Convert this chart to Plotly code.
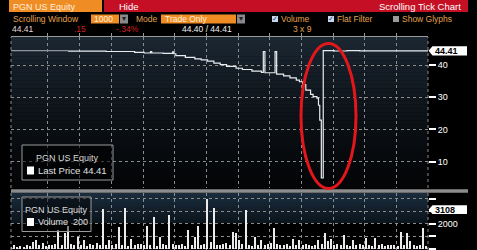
import plotly.graph_objects as go

W, H = 477, 250
def X(px): return px / W
def Y(py): return 1 - py / H

# ---------------- data ----------------
ticker = "PGN US Equity"
last_price = 44.41
last_volume = 200
max_volume_label = 3108
price_ticks = [10, 20, 30, 40]
volume_ticks = [0, 1000, 2000, 3000, 4000]
volume_ticktext = ["0", "", "2000", "", ""]

# previous (grey) segment
prev_idx = [0, 18]
prev_price = [44.44, 44.44]

# trade-sequence index and price (step line)
price_idx = [18, 30, 39, 42, 44, 44.4, 48, 51, 51.4, 52, 55, 58, 60, 62, 64, 66, 68,
             71, 73, 76, 79, 79.6, 80.1, 83.3, 83.8, 86, 88, 90, 91, 92, 93, 94.5,
             95.3, 96.5, 97.0, 97.4, 97.9, 98.5, 102, 106, 110, 116, 118, 131.6]
price_val = [44.30, 44.20, 43.95, 43.73, 44.13, 43.73, 43.60, 44.10, 43.50, 42.90,
             42.40, 41.90, 41.60, 41.20, 40.60, 40.10, 39.60, 39.00, 38.60, 38.10,
             37.70, 44.15, 37.60, 44.15, 37.20, 36.60, 36.00, 35.30, 34.80, 33.90,
             32.20, 30.90, 30.20, 29.70, 27.50, 22.90, 4.90, 44.44, 44.35, 44.45,
             44.40, 44.38, 44.42, 44.41]

volume = [150, 300, 120, 200, 150, 250, 180, 500, 680, 300,
          450, 200, 300, 250, 350, 1480, 300, 1240, 1800, 400,
          250, 940, 300, 700, 200, 350, 300, 450, 250, 3200,
          300, 700, 250, 400, 1740, 300, 3240, 200, 760, 300,
          400, 350, 250, 1800, 300, 2540, 200, 940, 400, 300,
          2650, 350, 250, 300, 400, 200, 1480, 300, 940, 1770,
          250, 350, 3960, 500, 3240, 300, 250, 350, 450, 300,
          1330, 1260, 700, 400, 3108, 300, 200, 940, 250, 700,
          300, 400, 420, 1650, 400, 250, 300, 400, 200, 760,
          300, 700, 250, 350, 300, 200, 300, 700, 400, 1250,
          600, 760, 300, 400, 250, 1050, 300, 200, 720, 300,
          400, 250, 880, 300, 200, 880, 250, 350, 200, 300,
          250, 300, 200, 1340, 300, 1240, 600, 250, 200, 300,
          1640, 200]
volume_idx = list(range(len(volume)))

# ---------------- figure ----------------
fig = go.Figure()
fig.add_trace(go.Scatter(x=prev_idx, y=prev_price, mode="lines", line=dict(color="#8e959b", width=1.2, shape="hv"),
                         xaxis="x", yaxis="y", showlegend=False))
fig.add_trace(go.Scatter(x=price_idx, y=price_val, mode="lines", line=dict(color="#e8ecef", width=1.2, shape="hv"),
                         xaxis="x", yaxis="y", showlegend=False))
fig.add_trace(go.Bar(x=volume_idx, y=volume, width=0.36, marker=dict(color="#ececec", line=dict(width=0)),
                     xaxis="x2", yaxis="y2", showlegend=False))

shapes = []
annots = []

# gradient backgrounds
def lerp(a, b, t): return tuple(int(a[i] + (b[i] - a[i]) * t) for i in range(3))
top_c, mid_c, bot_c = (27, 39, 50), (10, 14, 18), (4, 5, 7)
y0, y1 = 37, 188
n = 38
for k in range(n):
    ya = y0 + (y1 - y0) * k / n
    yb = y0 + (y1 - y0) * (k + 1) / n
    t = k / (n - 1)
    c = lerp(top_c, mid_c, t / 0.65) if t < 0.65 else lerp(mid_c, bot_c, (t - 0.65) / 0.35)
    shapes.append(dict(type="rect", xref="paper", yref="paper", x0=X(11), x1=X(428), y0=Y(yb), y1=Y(ya) + 0.001,
                       fillcolor="rgb(%d,%d,%d)" % c, line=dict(width=0), layer="below"))
for k in range(10):
    ya = 193 + 3 * k
    c = lerp((26, 44, 60), (12, 22, 30), k / 9)
    shapes.append(dict(type="rect", xref="paper", yref="paper", x0=X(11), x1=X(428), y0=Y(ya + 3), y1=Y(ya) + 0.001,
                       fillcolor="rgb(%d,%d,%d)" % c, line=dict(width=0), layer="below"))

# header row 1
shapes.append(dict(type="rect", xref="paper", yref="paper", x0=X(9), x1=X(102), y0=Y(12), y1=Y(0),
                   fillcolor="#f08c24", line=dict(width=0)))
shapes.append(dict(type="rect", xref="paper", yref="paper", x0=X(104), x1=X(468), y0=Y(12), y1=Y(0),
                   fillcolor="#c40f24", line=dict(width=0)))
def txt(s, px, py, color, size=9, anchor="left", bold=False):
    annots.append(dict(text=("<b>%s</b>" % s) if bold else s, xref="paper", yref="paper", x=X(px), y=Y(py),
                       xanchor=anchor, yanchor="middle", showarrow=False,
                       font=dict(family="Liberation Sans", size=size, color=color)))
txt(ticker, 11, 6.5, "#fff0dc", size=9)
txt("Hide", 117, 6.5, "#ffffff", size=9.5)
txt("Scrolling Tick Chart", 463, 6.5, "#ffffff", size=9.5, anchor="right")

# header row 2
tan = "#e3a04e"
txt("Scrolling Window", 11, 19, tan, size=8.5)
shapes.append(dict(type="rect", xref="paper", yref="paper", x0=X(91), x1=X(119), y0=Y(23.5), y1=Y(14.5),
                   fillcolor="#f08c24", line=dict(width=0)))
txt("1000", 92, 19, "#fff0dc", size=8.5)
for bx in (120, 237):
    shapes.append(dict(type="rect", xref="paper", yref="paper", x0=X(bx), x1=X(bx + 8), y0=Y(23.5), y1=Y(14.5),
                       fillcolor="#8a8a8a", line=dict(width=0)))
    txt("▾", bx + 4, 19, "#222222", size=8, anchor="center")
txt("Mode", 160, 19, tan, size=8.5, anchor="right")
shapes.append(dict(type="rect", xref="paper", yref="paper", x0=X(161), x1=X(236), y0=Y(23.5), y1=Y(14.5),
                   fillcolor="#f08c24", line=dict(width=0)))
txt("Trade Only", 163, 19, "#fff0dc", size=8.5)
for bx, fc in ((272, "#c8d8ee"), (328, "#c8d8ee"), (393, "#9a9a9a")):
    shapes.append(dict(type="rect", xref="paper", yref="paper", x0=X(bx), x1=X(bx + 6), y0=Y(22), y1=Y(16),
                       fillcolor=fc, line=dict(width=0)))
txt("✓", 275, 19, "#1d3c78", size=7, anchor="center")
txt("✓", 331, 19, "#1d3c78", size=7, anchor="center")
txt("Volume", 279, 19, tan, size=8.5)
txt("Flat Filter", 335, 19, tan, size=8.5)
txt("Show Glyphs", 400, 19, tan, size=8.5)

# header row 3
txt("44.41", 10, 29, "#e6d6d2", size=8.5)
txt(".15", 72, 29, "#d42020", size=8.5)
txt("-.34%", 114, 29, "#d42020", size=8.5)
txt("44.40 / 44.41", 180, 29, "#f0f0f0", size=8.5)
txt("3 x 9", 302, 29, tan, size=8.5, anchor="center")

# borders
for bx in (11, 428):
    shapes.append(dict(type="line", xref="paper", yref="paper", x0=X(bx), x1=X(bx), y0=Y(188), y1=Y(37),
                       line=dict(color="#8a8a8a", width=1, dash="dot")))
    shapes.append(dict(type="line", xref="paper", yref="paper", x0=X(bx), x1=X(bx), y0=Y(250), y1=Y(193),
                       line=dict(color="#8a8a8a", width=1, dash="dot")))
# separator
shapes.append(dict(type="rect", xref="paper", yref="paper", x0=X(11), x1=X(468), y0=Y(192.8), y1=Y(189.3),
                   fillcolor="#8c8c8c", line=dict(width=0)))

# last price label
dy = 4.6 / 3.22
shapes.append(dict(type="path", xref="paper", yref="y",
                   path="M %f %f L %f %f L %f %f L %f %f L %f %f Z" % (
                       X(428.5), last_price, X(432.5), last_price + dy, X(467), last_price + dy,
                       X(467), last_price - dy, X(432.5), last_price - dy),
                   fillcolor="#ffffff", line=dict(width=0)))
annots.append(dict(text="<b>%.2f</b>" % last_price, xref="paper", yref="y", x=X(433), y=last_price,
                   xanchor="left", yanchor="middle", showarrow=False,
                   font=dict(family="Liberation Sans", size=9, color="#000000")))
dv = 4.3 * 80
shapes.append(dict(type="path", xref="paper", yref="y2",
                   path="M %f %f L %f %f L %f %f L %f %f L %f %f Z" % (
                       X(428.5), max_volume_label, X(432.5), max_volume_label + dv, X(467), max_volume_label + dv,
                       X(467), max_volume_label - dv, X(432.5), max_volume_label - dv),
                   fillcolor="#ffffff", line=dict(width=0)))
annots.append(dict(text="<b>%d</b>" % max_volume_label, xref="paper", yref="y2", x=X(433), y=max_volume_label,
                   xanchor="left", yanchor="middle", showarrow=False,
                   font=dict(family="Liberation Sans", size=9, color="#000000")))

# legend boxes
shapes.append(dict(type="rect", xref="paper", yref="paper", x0=X(22), x1=X(113), y0=Y(180), y1=Y(145),
                   fillcolor="rgba(0,0,0,0.55)", line=dict(color="#9a9a9a", width=1)))
txt(ticker, 67, 157.5, "#d8d8d8", size=9, anchor="center")
shapes.append(dict(type="rect", xref="paper", yref="paper", x0=X(27), x1=X(34), y0=Y(174.5), y1=Y(166.5),
                   fillcolor="#ffffff", line=dict(width=0)))
txt("Last Price %.2f" % last_price, 36, 170.5, "#e0e0e0", size=9.5)

shapes.append(dict(type="rect", xref="paper", yref="paper", x0=X(22), x1=X(91), y0=Y(231.5), y1=Y(197),
                   fillcolor="rgba(0,0,0,0.45)", line=dict(color="#9a9a9a", width=1)))
txt(ticker, 56.5, 209.5, "#d8d8d8", size=9, anchor="center")
shapes.append(dict(type="rect", xref="paper", yref="paper", x0=X(27), x1=X(34), y0=Y(226), y1=Y(218),
                   fillcolor="#ffffff", line=dict(width=0)))
txt("Volume  %d" % last_volume, 36, 222, "#e0e0e0", size=9)

# red ellipse
shapes.append(dict(type="circle", xref="paper", yref="paper", x0=X(301), x1=X(356), y0=Y(188.5), y1=Y(43.5),
                   line=dict(color="#e3171b", width=3)))

xgrid = [11.67 + 10 * k for k in range(12)]
grid_c = "#8c8c8c"
fig.update_layout(
    width=W, height=H, margin=dict(l=0, r=0, t=0, b=0),
    paper_bgcolor="#000000", plot_bgcolor="rgba(0,0,0,0)",
    bargap=0,
    xaxis=dict(domain=[X(11), X(428)], range=[0, 131.55], anchor="y", side="top",
               tickmode="array", tickvals=xgrid, showticklabels=False,
               ticks="outside", ticklen=3, tickcolor="#9a9a9a",
               showgrid=True, gridcolor=grid_c, griddash="dot", gridwidth=1,
               showline=True, linecolor="#9a9a9a", linewidth=1, zeroline=False),
    yaxis=dict(domain=[Y(188), Y(37)], range=[1.8, 48.7], side="right", anchor="x",
               tickmode="array", tickvals=price_ticks,
               ticks="outside", ticklen=7, tickcolor="#ffffff", tickwidth=1.5,
               tickfont=dict(family="Liberation Sans", size=9, color="#ffffff"),
               showgrid=True, gridcolor=grid_c, griddash="dot", gridwidth=1, zeroline=False),
    xaxis2=dict(domain=[X(11), X(428)], range=[0, 131.55], anchor="y2", matches="x",
                tickmode="array", tickvals=xgrid, showticklabels=False, ticks="",
                showgrid=True, gridcolor=grid_c, griddash="dot", gridwidth=1, zeroline=False),
    yaxis2=dict(domain=[0, Y(193)], range=[-120, 4440], side="right", anchor="x2",
                tickmode="array", tickvals=volume_ticks, ticktext=volume_ticktext,
                ticks="outside", ticklen=7, tickcolor="#ffffff", tickwidth=1.5,
                tickfont=dict(family="Liberation Sans", size=9, color="#ffffff"),
                showgrid=True, gridcolor=grid_c, griddash="dot", gridwidth=1, zeroline=False),
    shapes=shapes, annotations=annots,
)

fig.write_html("out.html")
